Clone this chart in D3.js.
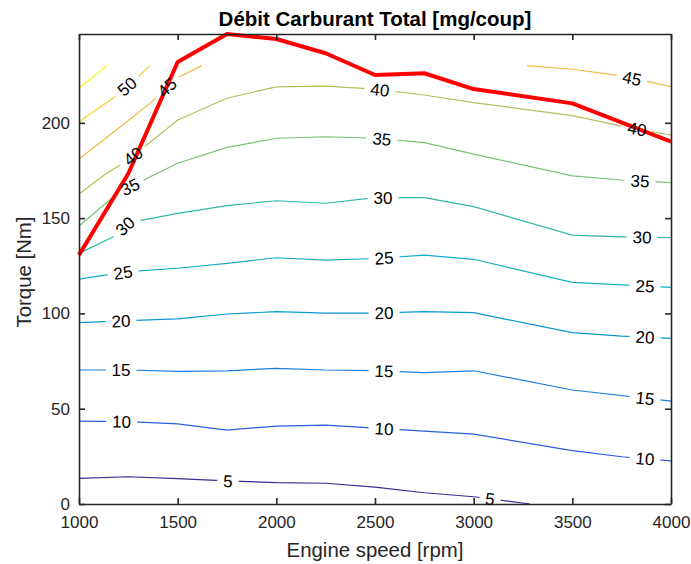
<!DOCTYPE html>
<html>
<head>
<meta charset="utf-8">
<script src="https://cdn.jsdelivr.net/npm/d3@7"></script>
<style>
  body { margin: 0; background: #fff; }
  svg { display: block; font-family: "Liberation Sans", Arial, Helvetica, sans-serif; }
</style>
</head>
<body>
<script>
// ---------- DATA ----------
const chartTitle = "Débit Carburant Total [mg/coup]";
const xLabel = "Engine speed [rpm]";
const yLabel = "Torque [Nm]";
const xTicks = [1000, 1500, 2000, 2500, 3000, 3500, 4000];
const yTicks = [0, 50, 100, 150, 200];

// full-load (max torque) curve
const fullLoadRpm    = [1000, 1250, 1500, 1750, 2000, 2250, 2500, 2750, 3000, 3500, 4000];
const fullLoadTorque = [130.6, 173.4, 231.9, 246.6, 244.0, 236.5, 225.1, 226.0, 217.7, 210.2, 190.1];

// iso-fuel contour lines [rpm, Nm]
const levels = [5, 10, 15, 20, 25, 30, 35, 40, 45, 50, 55];
const contour5  = [[1000,13.4],[1250,14.3],[1500,13.3],[1750,12.1],[2000,11.2],[2250,10.9],[2500,8.9],[2750,5.9],[3000,3.8],[3285,0]];
const contour10 = [[1000,43.5],[1250,43.2],[1500,42.0],[1750,38.8],[2000,40.9],[2250,41.4],[3000,36.7],[3500,28.0],[3750,24.8],[4000,22.6]];
const contour15 = [[1000,70.3],[1250,70.3],[1500,69.6],[1750,69.9],[2000,71.2],[2250,70.3],[2500,70.0],[2750,68.9],[3000,69.9],[3500,59.8],[4000,54.0]];
const contour20 = [[1000,95.2],[1250,96.2],[1500,97.1],[1750,99.7],[2000,100.9],[2250,100.1],[2500,100.1],[2750,100.9],[3000,100.4],[3500,89.9],[3750,88.1],[4000,86.9]];
const contour25 = [[1000,118.0],[1250,121.9],[1500,123.7],[1750,126.3],[2000,129.2],[2250,128.0],[2500,128.8],[2750,130.6],[3000,128.4],[3500,116.3],[4000,113.7]];
const contour30 = [[1000,131.5],[1175,140.2],[1250,147.5],[1500,152.5],[1750,156.6],[2000,159.1],[2250,157.8],[2500,160.7],[2750,160.7],[3000,156.0],[3500,141.1],[3750,140.2],[4000,139.7]];
const contour35 = [[1000,145.9],[1175,161.2],[1250,166.0],[1500,178.8],[1750,187.1],[2000,191.9],[2250,192.7],[2500,191.9],[2750,189.6],[3000,183.6],[3500,172.2],[3750,170.0],[4000,168.6]];
const contour40 = [[1000,162.6],[1140,173.5],[1250,180.5],[1500,201.5],[1750,212.9],[2000,218.9],[2250,219.3],[2500,217.7],[2750,214.6],[3000,210.6],[3500,203.8],[3750,198.3],[4000,193.6]];
const contour45a = [[1000,181.0],[1242,200.6],[1368,211.0],[1495,223.4],[1622,230.0]];
const contour45b = [[3270,230.0],[3500,228.1],[3750,224.6],[4000,219.0]];
const contour50 = [[1000,200.6],[1182,213.7],[1300,224.2],[1360,230.0]];
const contour55 = [[1000,218.1],[1143,230.0]];

const contourLines = [
  {level: 5,  pts: contour5,   labelRpm: [1755, 3083]},
  {level: 10, pts: contour10,  labelRpm: [1216, 2546, 3868]},
  {level: 15, pts: contour15,  labelRpm: [1213, 2546, 3868]},
  {level: 20, pts: contour20,  labelRpm: [1213, 2546, 3868]},
  {level: 25, pts: contour25,  labelRpm: [1223, 2546, 3868]},
  {level: 30, pts: contour30,  labelRpm: [1233, 2540, 3853]},
  {level: 35, pts: contour35,  labelRpm: [1258, 2535, 3843]},
  {level: 40, pts: contour40,  labelRpm: [1274, 2525, 3828]},
  {level: 45, pts: contour45a, labelRpm: [1446]},
  {level: 45, pts: contour45b, labelRpm: [3802]},
  {level: 50, pts: contour50,  labelRpm: [1243]},
  {level: 55, pts: contour55,  labelRpm: []}
];

// ---------- LAYOUT ----------
const W = 691, H = 564;
const mLeft = 79, mRight = 671, mTop = 34, mBottom = 504;

const svg = d3.select("body").append("svg").attr("width", W).attr("height", H);
svg.append("rect").attr("width", W).attr("height", H).attr("fill", "#fff");

const x = d3.scaleLinear().domain([1000, 4000]).range([mLeft, mRight]);
const y = d3.scaleLinear().domain([0, d3.max(fullLoadTorque)]).range([mBottom, mTop]);

// parula-like colormap
const parula = d3.piecewise(d3.interpolateRgb, ["#3a2c95","#2a5de0","#1c7ddc","#0a98d3","#14aec4","#2fb8a5","#7ac17a","#b8bd5c","#f2b844","#fbd02e","#f8f614"]);
const color = d3.scaleSequential(parula).domain([d3.min(levels), d3.max(levels)]);

const line = d3.line().x(d => x(d[0])).y(d => y(d[1]));

// contour lines
const gC = svg.append("g");
contourLines.forEach(c => {
  gC.append("path").attr("d", line(c.pts)).attr("fill", "none")
    .attr("stroke", color(c.level)).attr("stroke-width", 1.2);
});

// label positions
const fs = 17;
const labels = [];
contourLines.forEach(c => {
  c.labelRpm.forEach(r => {
    const p = c.pts;
    let i = 0;
    while (i < p.length - 2 && p[i + 1][0] < r) i++;
    const a = p[i], b = p[i + 1];
    const t = (r - a[0]) / (b[0] - a[0]);
    const tq = a[1] + t * (b[1] - a[1]);
    const ang = Math.atan2(y(b[1]) - y(a[1]), x(b[0]) - x(a[0])) * 180 / Math.PI;
    labels.push({level: c.level, px: x(r), py: y(tq), ang});
  });
});

const gBg = svg.append("g");
labels.forEach(l => {
  const w = String(l.level).length * fs * 0.556 + 12;
  gBg.append("rect").attr("x", -w / 2).attr("y", -7).attr("width", w).attr("height", 14)
    .attr("fill", "#fff")
    .attr("transform", `translate(${l.px},${l.py}) rotate(${l.ang})`);
});

// full load curve
svg.append("path")
  .attr("d", d3.line().x((d, i) => x(fullLoadRpm[i])).y(d => y(d))(fullLoadTorque))
  .attr("fill", "none").attr("stroke", "#ff0000").attr("stroke-width", 4)
  .attr("stroke-linejoin", "round");

// axes
const axCol = "#262626";
function styleAxis(g) {
  g.select(".domain").attr("stroke", axCol).attr("stroke-width", 1.6);
  g.selectAll(".tick line").attr("stroke", axCol).attr("stroke-width", 1.6);
  g.selectAll(".tick text").attr("fill", axCol).style("font-size", fs + "px")
    .style("font-family", '"Liberation Sans", Arial, Helvetica, sans-serif');
}
svg.append("g").attr("transform", `translate(0,${mBottom})`)
  .call(d3.axisBottom(x).tickValues(xTicks).tickFormat(d3.format("d")).tickSize(-6).tickSizeOuter(0).tickPadding(12))
  .call(styleAxis);
svg.append("g").attr("transform", `translate(0,${mTop})`)
  .call(d3.axisTop(x).tickValues(xTicks).tickFormat("").tickSize(-6).tickSizeOuter(0))
  .call(styleAxis);
svg.append("g").attr("transform", `translate(${mLeft},0)`)
  .call(d3.axisLeft(y).tickValues(yTicks).tickSize(-6).tickSizeOuter(0).tickPadding(9))
  .call(styleAxis);
svg.append("g").attr("transform", `translate(${mRight},0)`)
  .call(d3.axisRight(y).tickValues(yTicks).tickFormat("").tickSize(-6).tickSizeOuter(0))
  .call(styleAxis);

// contour label text
const gT = svg.append("g");
labels.forEach(l => {
  gT.append("text").attr("transform", `translate(${l.px},${l.py}) rotate(${l.ang})`)
    .attr("text-anchor", "middle").attr("dy", "0.36em")
    .style("font-size", fs + "px").attr("fill", "#000")
    .text(l.level);
});

// titles
svg.append("text").attr("x", (mLeft + mRight) / 2).attr("y", 26)
  .attr("text-anchor", "middle").style("font-size", "20.5px").style("font-weight", "bold")
  .attr("fill", "#000").text(chartTitle);
svg.append("text").attr("x", (mLeft + mRight) / 2).attr("y", 557)
  .attr("text-anchor", "middle").style("font-size", "20.4px").attr("fill", axCol).text(xLabel);
svg.append("text").attr("transform", `translate(31,${(mTop + mBottom) / 2 + 3}) rotate(-90)`)
  .attr("text-anchor", "middle").style("font-size", "20.4px").attr("fill", axCol).text(yLabel);
</script>
</body>
</html>
